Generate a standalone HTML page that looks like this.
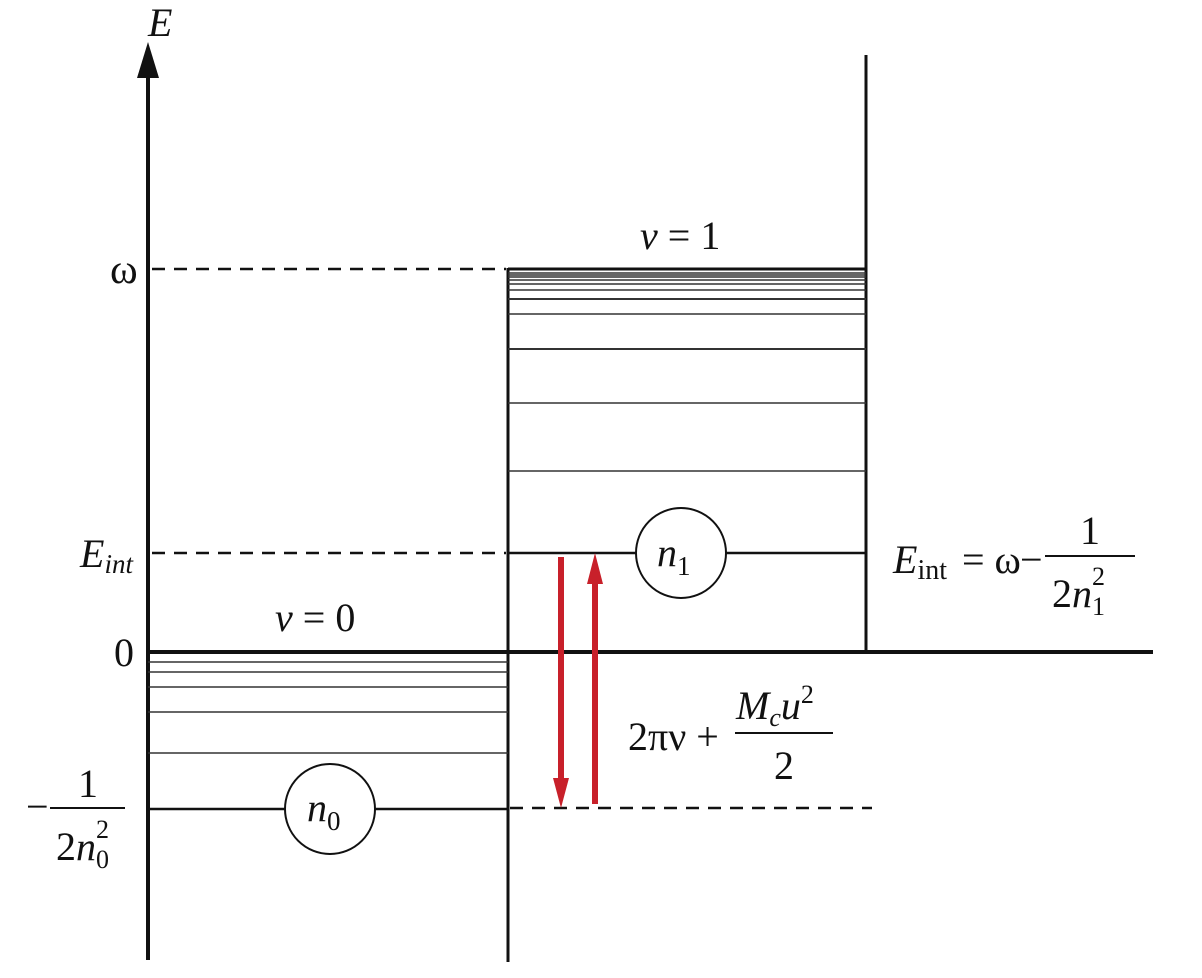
<!DOCTYPE html>
<html><head><style>body{margin:0;background:#fff}svg{display:block}text{font-family:"Liberation Serif",serif;fill:#111}</style></head><body>
<svg width="1202" height="978" viewBox="0 0 1202 978" xmlns="http://www.w3.org/2000/svg">
<g stroke="#111" fill="none">
<line x1="148" y1="960" x2="148" y2="70" stroke-width="4"/>
<polygon points="148,42 137,78 159,78" fill="#111" stroke="none"/>
<line x1="508" y1="268" x2="508" y2="962" stroke-width="3"/>
<line x1="866" y1="55" x2="866" y2="652" stroke-width="3"/>
<line x1="148" y1="652" x2="1153" y2="652" stroke-width="4"/>
<g stroke-width="2.5" stroke-dasharray="13,9">
<line x1="152" y1="269" x2="506" y2="269"/>
<line x1="152" y1="553" x2="506" y2="553"/>
<line x1="510" y1="808" x2="872" y2="808"/>
</g>
<line x1="508" y1="269" x2="866" y2="269" stroke-width="3"/>
<g stroke-width="1.5" stroke="#333">
<line x1="508" y1="273" x2="866" y2="273"/>
<line x1="508" y1="275" x2="866" y2="275"/>
<line x1="508" y1="277" x2="866" y2="277"/>
<line x1="508" y1="280" x2="866" y2="280"/>
<line x1="508" y1="284" x2="866" y2="284"/>
<line x1="508" y1="290" x2="866" y2="290"/>
<line x1="508" y1="299" x2="866" y2="299" stroke-width="2"/>
<line x1="508" y1="314" x2="866" y2="314"/>
<line x1="508" y1="349" x2="866" y2="349" stroke-width="2"/>
<line x1="508" y1="403" x2="866" y2="403"/>
<line x1="508" y1="471" x2="866" y2="471"/>
</g>
<line x1="508" y1="553" x2="866" y2="553" stroke-width="2.5"/>
<g stroke-width="1.5" stroke="#333">
<line x1="148" y1="662" x2="508" y2="662"/>
<line x1="148" y1="672" x2="508" y2="672"/>
<line x1="148" y1="687" x2="508" y2="687"/>
<line x1="148" y1="712" x2="508" y2="712"/>
<line x1="148" y1="753" x2="508" y2="753"/>
</g>
<line x1="148" y1="809" x2="508" y2="809" stroke-width="2.5"/>
<circle cx="681" cy="553" r="45" fill="#fff" stroke-width="2"/>
<circle cx="330" cy="809" r="45" fill="#fff" stroke-width="2"/>
<line x1="50" y1="808" x2="125" y2="808" stroke-width="2"/>
<line x1="1045" y1="556" x2="1135" y2="556" stroke-width="2"/>
<line x1="735" y1="733" x2="833" y2="733" stroke-width="2"/>
</g>
<g fill="#c8202a">
<rect x="558" y="557" width="6" height="225"/>
<polygon points="561,808 553,778 569,778"/>
<rect x="592" y="580" width="6" height="224"/>
<polygon points="595,553 587,584 603,584"/>
</g>
<text x="148" y="36" font-size="40" font-style="italic">E</text>
<text x="110" y="283" font-size="42">ω</text>
<text x="80" y="567" font-size="40" font-style="italic">E<tspan font-size="27" dy="6">int</tspan></text>
<text x="640" y="249" font-size="40"><tspan font-style="italic">v</tspan> = 1</text>
<text x="275" y="631" font-size="40"><tspan font-style="italic">v</tspan> = 0</text>
<text x="114" y="666" font-size="40">0</text>
<text x="26" y="820" font-size="40">−</text>
<text x="78" y="797" font-size="40">1</text>
<text x="56" y="860" font-size="40">2<tspan font-style="italic">n</tspan><tspan font-size="26" dy="8">0</tspan><tspan font-size="26" dx="-13" dy="-30">2</tspan></text>
<text x="657" y="566" font-size="40" font-style="italic">n<tspan font-style="normal" font-size="27" dy="9">1</tspan></text>
<text x="307" y="821" font-size="40" font-style="italic">n<tspan font-style="normal" font-size="27" dy="9">0</tspan></text>
<text x="893" y="573" font-size="40" font-style="italic">E<tspan font-style="normal" font-size="28" dy="6">int</tspan></text>
<text x="962" y="573" font-size="40">= ω</text>
<text x="1020" y="573" font-size="40">−</text>
<text x="1080" y="544" font-size="40">1</text>
<text x="1052" y="607" font-size="40">2<tspan font-style="italic">n</tspan><tspan font-size="26" dy="8">1</tspan><tspan font-size="26" dx="-13" dy="-30">2</tspan></text>
<text x="628" y="750" font-size="40">2πν +</text>
<text x="736" y="719" font-size="40" font-style="italic">M<tspan font-size="26" dy="7">c</tspan><tspan dy="-7">u</tspan><tspan font-style="normal" font-size="26" dy="-16">2</tspan></text>
<text x="774" y="779" font-size="40">2</text>
</svg>
</body></html>
